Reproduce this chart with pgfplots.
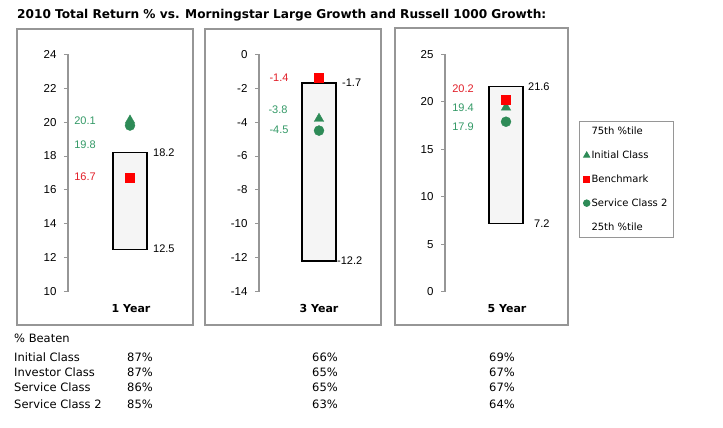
\documentclass[border=0pt]{standalone}
\usepackage{fontspec}
\setmainfont{Liberation Sans}
\newfontfamily\dv{DejaVu Sans}
\usepackage{pgfplots}
\pgfplotsset{compat=1.18}

\definecolor{mgreen}{RGB}{46,139,87}
\definecolor{lgreen}{RGB}{51,153,102}
\definecolor{mred}{RGB}{255,0,0}
\definecolor{tred}{RGB}{225,30,40}
\definecolor{frame}{RGB}{150,150,150}

\tikzset{
  vlab/.style={font=\fontsize{11}{13}\selectfont, inner sep=0pt},
  catlab/.style={font=\dv\bfseries\fontsize{11}{13}\selectfont, inner sep=0pt},
}
\pgfplotsset{
  panel/.style={
    scale only axis, anchor=south west,
    axis x line=none, axis y line=left,
    axis line style={frame, line width=1.5pt, -},
    height=237.4pt, xmin=0,
    ytick style={frame, line width=1pt},
    tick align=outside, major tick length=4pt,
    y tick label style={font=\fontsize{11.5}{13}\selectfont, text=black, xshift=-4pt},
    /pgf/number format/assume math mode=true,
    clip=false,
  },
  boxstyle/.style={draw=black, line width=1.5pt, fill=black!4, forget plot},
  tri/.style={only marks, mark=triangle*, mark size=5.5pt, color=mgreen, forget plot},
  sq/.style={only marks, mark=square*, mark size=4.5pt, color=mred, forget plot},
  circ/.style={only marks, mark=*, mark size=5pt, color=mgreen, forget plot},
  mylegmark/.style={legend image code/.code={\draw[##1] plot coordinates {(0pt,0pt)};}},
}

\begin{document}
\begin{tikzpicture}
\path (0pt,0pt) rectangle (723pt,428pt);

% title
\node[anchor=west, inner sep=0pt] at (17pt,413pt)
  {\resizebox{529pt}{!}{\dv\bfseries\fontsize{11}{13}\selectfont 2010 Total Return \% vs. Morningstar Large Growth and Russell 1000 Growth:}};

% panel frames
\draw[frame, line width=1.3pt] (17pt,399pt) rectangle (193pt,103pt);
\draw[frame, line width=1.3pt] (205pt,399pt) rectangle (381pt,103pt);
\draw[frame, line width=1.3pt] (395pt,400pt) rectangle (568pt,103pt);

% ---------- 1 Year ----------
\begin{axis}[panel, at={(68pt,136.3pt)}, width=125pt, xmax=125,
  ymin=10, ymax=24, ytick={10,12,...,24}]
\addplot[boxstyle] coordinates {(45,12.5) (79,12.5) (79,18.2) (45,18.2)} -- cycle;
\addplot[sq] coordinates {(62,16.7)};
\addplot[circ] coordinates {(62,19.8)};
\addplot[tri] coordinates {(62,20.1)};
\node[vlab, text=lgreen] at (axis cs:17,20.07) {20.1};
\node[vlab, text=lgreen] at (axis cs:17,18.65) {19.8};
\node[vlab, text=tred] at (axis cs:17,16.77) {16.7};
\node[vlab, anchor=west] at (axis cs:85,18.18) {18.2};
\node[vlab, anchor=west] at (axis cs:85,12.52) {12.5};
\node[catlab] at (axis cs:63,9.0) {1 Year};
\end{axis}

% ---------- 3 Year ----------
\begin{axis}[panel, at={(259pt,136.3pt)}, width=122pt, xmax=122,
  ymin=-14, ymax=0, ytick={-14,-12,...,0}]
\addplot[boxstyle] coordinates {(43,-12.2) (77,-12.2) (77,-1.7) (43,-1.7)} -- cycle;
\addplot[circ] coordinates {(60,-4.5)};
\addplot[tri] coordinates {(60,-3.8)};
\addplot[sq] coordinates {(60,-1.4)};
\node[vlab, text=tred] at (axis cs:20,-1.40) {-1.4};
\node[vlab, text=lgreen] at (axis cs:19,-3.28) {-3.8};
\node[vlab, text=lgreen] at (axis cs:20,-4.46) {-4.5};
\node[vlab, anchor=west] at (axis cs:83,-1.69) {-1.7};
\node[vlab, anchor=west] at (axis cs:78,-12.19) {-12.2};
\node[catlab] at (axis cs:60,-15.0) {3 Year};
\end{axis}

% ---------- 5 Year ----------
\begin{axis}[panel, at={(445pt,136.3pt)}, width=123pt, xmax=123,
  ymin=0, ymax=25, ytick={0,5,...,25},
  legend style={at={(axis description cs:1.0894,0.719)}, anchor=north west,
    draw=frame, line width=0.8pt, inner sep=4pt, row sep=11.8pt,
    font=\dv\fontsize{10}{12}\selectfont,
    nodes={inner sep=1.5pt, text=black, line width=0pt}},
  legend cell align=left]
\addlegendimage{empty legend}
\addlegendentry{75th \%tile}
\addlegendimage{mylegmark, only marks, mark=triangle*, mark size=3.5pt, color=mgreen}
\addlegendentry{Initial Class}
\addlegendimage{mylegmark, only marks, mark=square*, mark size=3pt, color=mred}
\addlegendentry{Benchmark}
\addlegendimage{mylegmark, only marks, mark=*, mark size=3.3pt, color=mgreen}
\addlegendentry{Service Class 2}
\addlegendimage{empty legend}
\addlegendentry{25th \%tile}
\addplot[boxstyle] coordinates {(44,7.2) (78,7.2) (78,21.6) (44,21.6)} -- cycle;
\addplot[circ] coordinates {(61,17.9)};
\addplot[tri] coordinates {(61,19.4)};
\addplot[sq] coordinates {(61,20.2)};
\node[vlab, text=tred] at (axis cs:18,21.35) {20.2};
\node[vlab, text=lgreen] at (axis cs:18,19.35) {19.4};
\node[vlab, text=lgreen] at (axis cs:18,17.34) {17.9};
\node[vlab, anchor=west] at (axis cs:83,21.56) {21.6};
\node[vlab, anchor=west] at (axis cs:89,7.13) {7.2};
\node[catlab] at (axis cs:62,-1.82) {5 Year};
\end{axis}

% ---------- % Beaten table ----------
\begin{scope}[every node/.style={anchor=west, inner sep=0pt, font=\dv\fontsize{11.5}{13}\selectfont}]
\node at (14pt,90pt) {\% Beaten};
\node at (14pt,71pt) {Initial Class};
\node at (14pt,56pt) {Investor Class};
\node at (14pt,41pt) {Service Class};
\node at (14pt,24pt) {Service Class 2};
\node at (127pt,71pt) {87\%};
\node at (127pt,56pt) {87\%};
\node at (127pt,41pt) {86\%};
\node at (127pt,24pt) {85\%};
\node at (312pt,71pt) {66\%};
\node at (312pt,56pt) {65\%};
\node at (312pt,41pt) {65\%};
\node at (312pt,24pt) {63\%};
\node at (489pt,71pt) {69\%};
\node at (489pt,56pt) {67\%};
\node at (489pt,41pt) {67\%};
\node at (489pt,24pt) {64\%};
\end{scope}
\end{tikzpicture}
\end{document}
